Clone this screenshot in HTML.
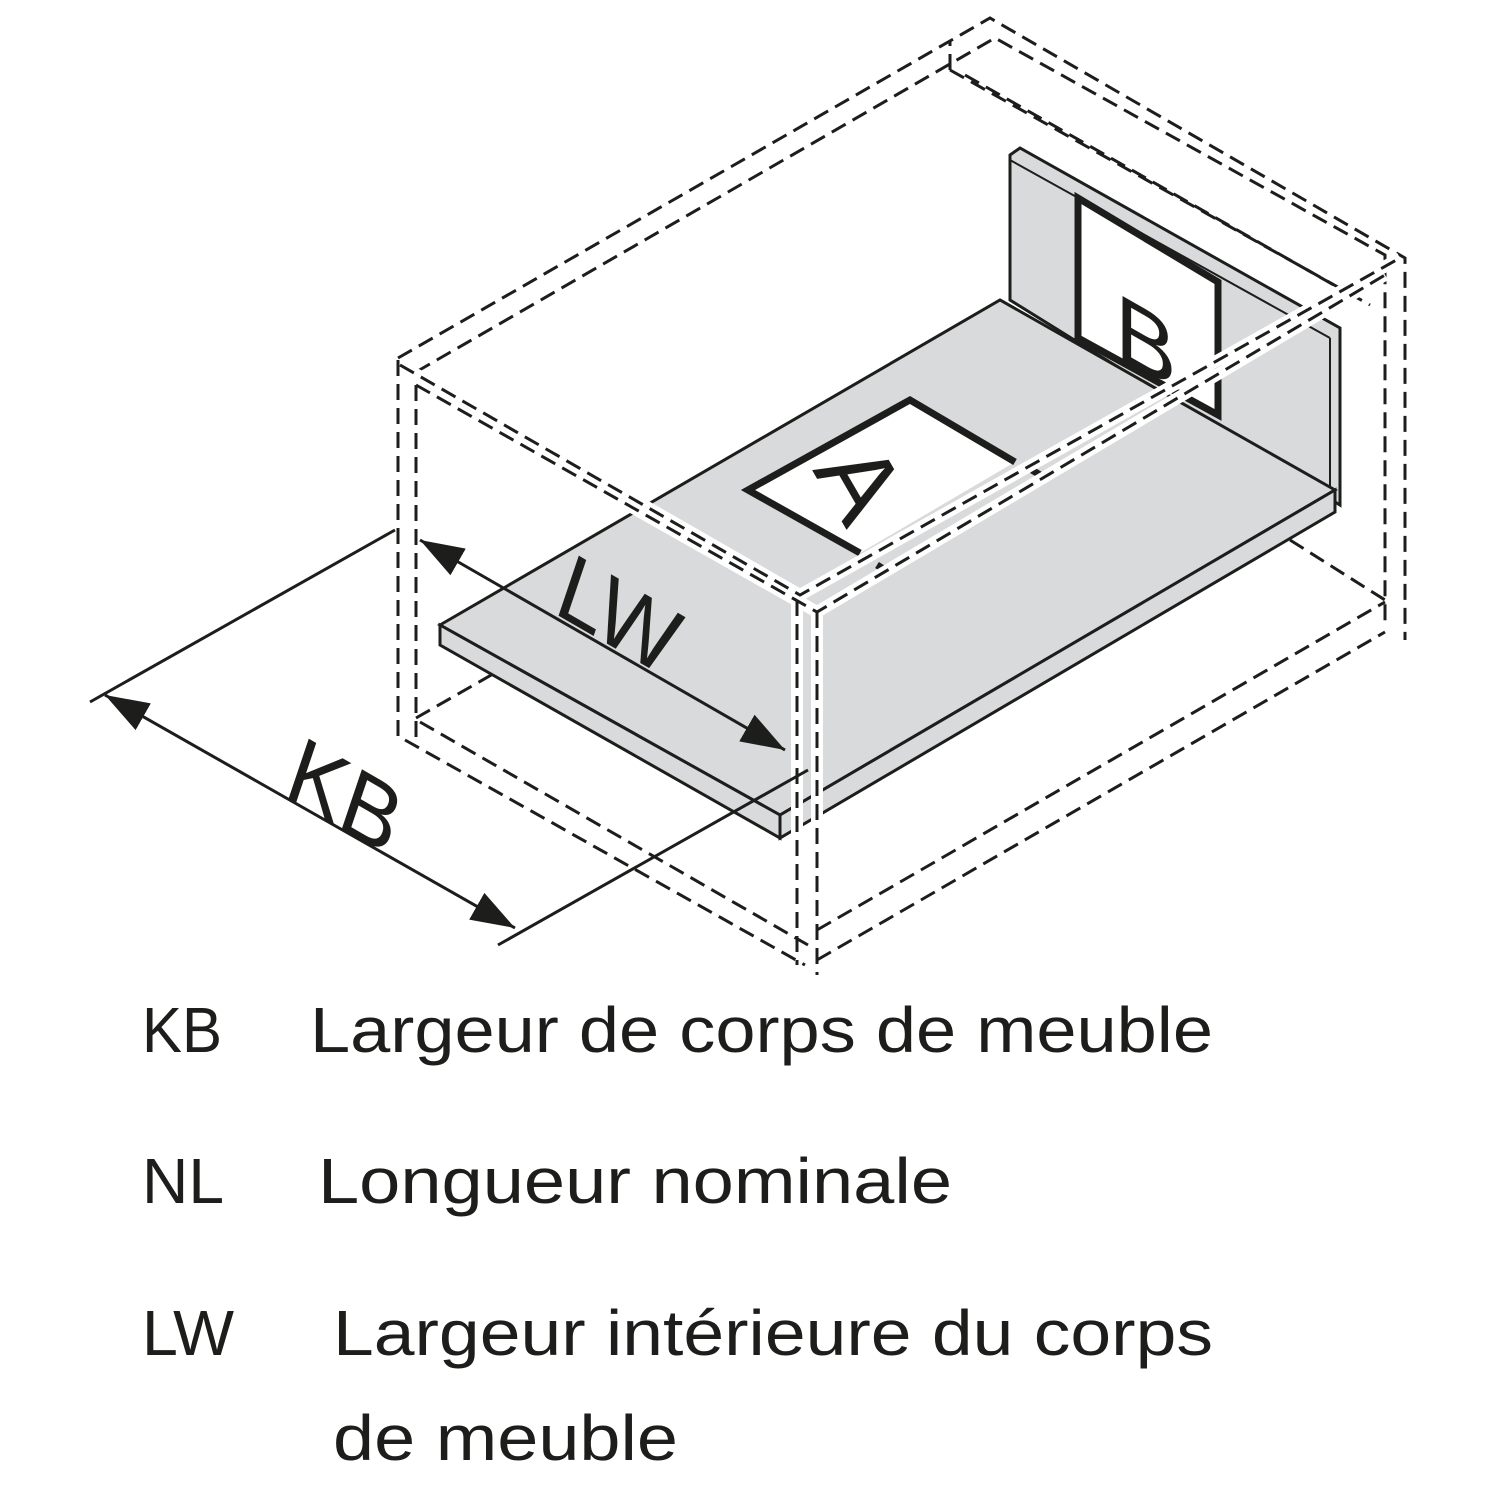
<!DOCTYPE html>
<html><head><meta charset="utf-8">
<style>
html,body{margin:0;padding:0;background:#fff;}
svg{display:block;}
.t{font-family:"Liberation Sans",sans-serif;fill:#1d1d1b;}
</style></head>
<body>
<svg width="1500" height="1500" viewBox="0 0 1500 1500" xmlns="http://www.w3.org/2000/svg">
<defs>
<marker id="ab" viewBox="0 0 10 10" refX="10" refY="5" markerWidth="44" markerHeight="44" markerUnits="userSpaceOnUse" orient="auto-start-reverse">
<path d="M0,1.5 L10,5 L0,8.5 z" fill="#1d1d1b"/></marker>
</defs>

<g fill="none" stroke="#1d1d1b" stroke-width="3" stroke-dasharray="16 8">
<polyline points="398,358 990,18 1405,258 1405,640"/>
<polyline points="416,372 995,38 1385,255 1385,625"/>
<polyline points="950,70 950,40"/>
<polyline points="950,70 1370,305"/>
<polyline points="965,75 1360,300"/>
<polyline points="416,718 500,670"/>
<polyline points="1290,540 1385,600"/>
</g>

<polygon points="1010,155 1020,148 1340,328 1340,505 1010,300" fill="#d9dadc" stroke="#1d1d1b" stroke-width="3"/>
<line x1="1010" y1="160" x2="1330" y2="338" stroke="#1d1d1b" stroke-width="2"/>
<line x1="1330" y1="338" x2="1330" y2="505" stroke="#1d1d1b" stroke-width="2"/>
<polygon points="1078,198 1218,282 1218,415 1078,338" fill="#fff" stroke="#1d1d1b" stroke-width="7"/>
<text class="t" x="0" y="0" font-size="92" transform="matrix(1,0.57,0,1,1115,355)">B</text>

<polygon points="440,625 1000,300 1335,490 780,815" fill="#d9dadc" stroke="#1d1d1b" stroke-width="3"/>
<polygon points="440,625 780,815 780,838 440,645" fill="#d9dadc" stroke="#1d1d1b" stroke-width="3"/>
<polygon points="780,815 1335,490 1335,512 780,838" fill="#d9dadc" stroke="#1d1d1b" stroke-width="3"/>

<polygon points="910,400 748,490 860,553 1015,462" fill="#fff"/>
<polyline points="1015,462 910,400 748,490 860,553" fill="none" stroke="#1d1d1b" stroke-width="7"/>
<polyline points="1032,470 1045,478 885,570 877,565" fill="none" stroke="#1d1d1b" stroke-width="7"/>
<text class="t" x="0" y="0" font-size="104" transform="translate(812,470) rotate(60)">A</text>

<g fill="none" stroke="#fff" stroke-width="12">
<polyline points="400,365 800,595 1400,258"/>
<polyline points="416,385 817,612 1385,275"/>
<line x1="797" y1="600" x2="797" y2="965"/>
<line x1="817" y1="612" x2="817" y2="975"/>
</g>
<g fill="none" stroke="#1d1d1b" stroke-width="3" stroke-dasharray="16 8">
<polyline points="400,365 800,595 1400,258"/>
<polyline points="416,385 817,612 1385,275"/>
<line x1="398" y1="360" x2="398" y2="740"/>
<line x1="416" y1="385" x2="416" y2="745"/>
<line x1="797" y1="600" x2="797" y2="965"/>
<line x1="817" y1="612" x2="817" y2="975"/>
<polyline points="405,740 805,965"/>
<polyline points="420,722 808,945"/>
<polyline points="817,960 1385,632"/>
<polyline points="817,930 1385,602"/>
</g>

<g stroke="#1d1d1b" stroke-width="3" fill="none">
<line x1="90" y1="702" x2="395" y2="530"/>
<line x1="498" y1="945" x2="808" y2="770"/>
<line x1="105" y1="695" x2="515" y2="928" marker-start="url(#ab)" marker-end="url(#ab)"/>
<line x1="420" y1="540" x2="785" y2="750" marker-start="url(#ab)" marker-end="url(#ab)"/>
</g>
<text class="t" x="0" y="0" font-size="92" transform="matrix(0.866,0.5,-0.32,0.95,282,795)">KB</text>
<text class="t" x="0" y="0" font-size="92" transform="matrix(0.866,0.5,-0.32,0.95,552,612)">LW</text>

<g class="t" font-size="64">
<text x="142" y="1052" textLength="80" lengthAdjust="spacingAndGlyphs">KB</text>
<text x="310" y="1052" textLength="903" lengthAdjust="spacingAndGlyphs">Largeur de corps de meuble</text>
<text x="142" y="1203" textLength="82" lengthAdjust="spacingAndGlyphs">NL</text>
<text x="318" y="1203" textLength="634" lengthAdjust="spacingAndGlyphs">Longueur nominale</text>
<text x="142" y="1355" textLength="92" lengthAdjust="spacingAndGlyphs">LW</text>
<text x="333" y="1355" textLength="880" lengthAdjust="spacingAndGlyphs">Largeur intérieure du corps</text>
<text x="333" y="1460" textLength="345" lengthAdjust="spacingAndGlyphs">de meuble</text>
</g>
</svg>
</body></html>
